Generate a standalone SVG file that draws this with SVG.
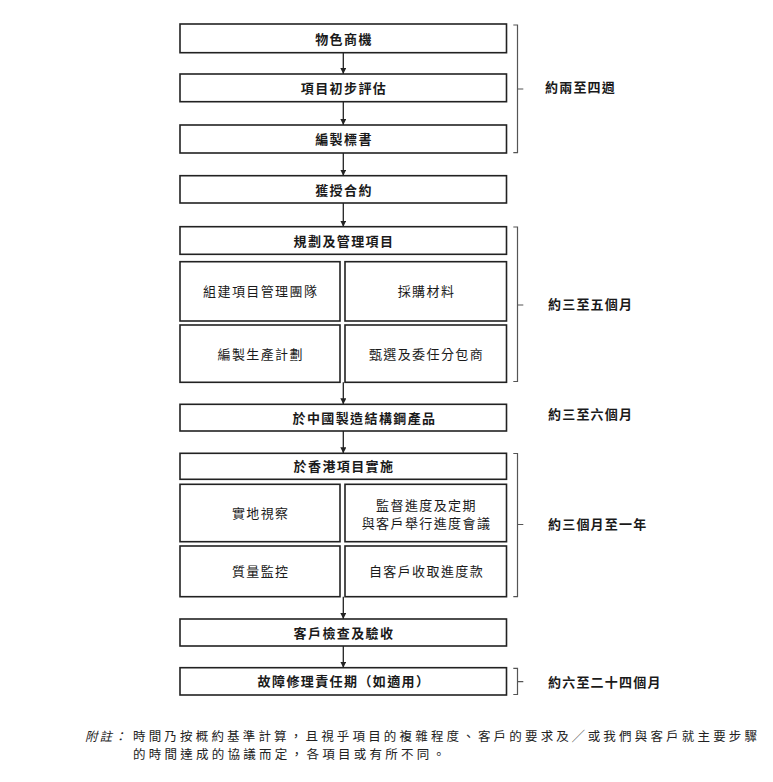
<svg xmlns="http://www.w3.org/2000/svg" width="773" height="782" viewBox="0 0 773 782">
<defs>
<style>
.box{fill:#fff;stroke:#222;stroke-width:1.6}
.t{font-family:"Noto Sans CJK TC","Noto Sans CJK SC",sans-serif;font-size:13px;fill:#1a1a1a;text-anchor:middle;letter-spacing:1.4px}
.b{font-weight:bold}
.lab{font-family:"Noto Sans CJK TC","Noto Sans CJK SC",sans-serif;font-size:13px;font-weight:bold;fill:#1a1a1a;letter-spacing:1.2px}
.br{fill:none;stroke:#555;stroke-width:1.2}
.con{stroke:#222;stroke-width:1.3;fill:none;marker-end:url(#ah)}
.note{font-family:"Noto Sans CJK TC","Noto Sans CJK SC",sans-serif;font-size:12.5px;fill:#222}
</style>
<marker id="ah" viewBox="0 0 8 8" refX="8" refY="4" markerWidth="6" markerHeight="6" orient="auto" markerUnits="userSpaceOnUse">
<path d="M0,0 L8,4 L0,8 Z" fill="#222"/>
</marker>
</defs>
<rect width="773" height="782" fill="#fff"/>

<g id="connectors">
<line class="con" x1="343.3" y1="52.7" x2="343.3" y2="74"/>
<line class="con" x1="343.3" y1="101.7" x2="343.3" y2="125"/>
<line class="con" x1="343.3" y1="153" x2="343.3" y2="175.7"/>
<line class="con" x1="343.3" y1="203" x2="343.3" y2="226.7"/>
<line class="con" x1="343.3" y1="382.3" x2="343.3" y2="404.3"/>
<line class="con" x1="343.3" y1="431" x2="343.3" y2="453.3"/>
<line class="con" x1="343.3" y1="596.7" x2="343.3" y2="619"/>
<line class="con" x1="343.3" y1="646" x2="343.3" y2="667.7"/>
</g>

<g id="n1"><rect class="box" x="180" y="24" width="326.5" height="28.7"/><text class="t b" x="344" y="43.5">物色商機</text></g>
<g id="n2"><rect class="box" x="180" y="74" width="326.5" height="27.7"/><text class="t b" x="344" y="93">項目初步評估</text></g>
<g id="n3"><rect class="box" x="180" y="125" width="326.5" height="28"/><text class="t b" x="344" y="144">編製標書</text></g>
<g id="n4"><rect class="box" x="180" y="175.7" width="326.5" height="27.3"/><text class="t b" x="344" y="194.5">獲授合約</text></g>

<g id="n5"><rect class="box" x="180" y="226.7" width="326.5" height="27.6"/><text class="t b" x="344" y="245.5">規劃及管理項目</text></g>
<g id="n5a"><rect class="box" x="180" y="261.7" width="160" height="59.3"/><text class="t" x="260.7" y="296.3">組建項目管理團隊</text></g>
<g id="n5b"><rect class="box" x="345" y="261.7" width="161.5" height="59.3"/><text class="t" x="426.5" y="296.3">採購材料</text></g>
<g id="n5c"><rect class="box" x="180" y="325" width="160" height="57.3"/><text class="t" x="260.7" y="359">編製生產計劃</text></g>
<g id="n5d"><rect class="box" x="345" y="325" width="161.5" height="57.3"/><text class="t" x="426.5" y="359">甄選及委任分包商</text></g>

<g id="n6"><rect class="box" x="180" y="404.3" width="326.5" height="26.7"/><text class="t b" x="364.5" y="422.7">於中國製造結構鋼產品</text></g>

<g id="n7"><rect class="box" x="180" y="453.3" width="326.5" height="26"/><text class="t b" x="344" y="471.3">於香港項目實施</text></g>
<g id="n7a"><rect class="box" x="180" y="484.3" width="160" height="57.4"/><text class="t" x="260.7" y="518">實地視察</text></g>
<g id="n7b"><rect class="box" x="345" y="484.3" width="161.5" height="57.4"/><text class="t" x="426.5" y="510">監督進度及定期</text><text class="t" x="426.5" y="528.3">與客戶舉行進度會議</text></g>
<g id="n7c"><rect class="box" x="180" y="546" width="160" height="50.7"/><text class="t" x="260.7" y="576.3">質量監控</text></g>
<g id="n7d"><rect class="box" x="345" y="546" width="161.5" height="50.7"/><text class="t" x="426.5" y="576.3">自客戶收取進度款</text></g>

<g id="n8"><rect class="box" x="180" y="619" width="326.5" height="27"/><text class="t b" x="344" y="637.5">客戶檢查及驗收</text></g>
<g id="n9"><rect class="box" x="180" y="667.7" width="326.5" height="27.3"/><text class="t b" x="344" y="686.3">故障修理責任期（如適用）</text></g>

<g id="brackets">
<path class="br" d="M513.3,25 H517.5 V152.7 H513.3 M517.5,89 H523.3"/>
<path class="br" d="M513.3,227 H517.5 V381.5 H513.3 M517.5,305 H523.3"/>
<path class="br" d="M513.3,453.5 H517.5 V596.7 H513.3 M517.5,524.5 H523.3"/>
<path class="br" d="M513.3,668.3 H517.5 V694.5 H513.3 M517.5,681.7 H523.3"/>
</g>

<g id="labels">
<text class="lab" x="545" y="91.7">約兩至四週</text>
<text class="lab" x="548" y="309">約三至五個月</text>
<text class="lab" x="548" y="419">約三至六個月</text>
<text class="lab" x="548" y="529">約三個月至一年</text>
<text class="lab" x="548" y="686.5">約六至二十四個月</text>
</g>

<g id="footnote">
<text class="note" x="85" y="740.5" font-style="italic" letter-spacing="2">附註：</text>
<text class="note" x="133" y="740.5" textLength="624" lengthAdjust="spacing">時間乃按概約基準計算，且視乎項目的複雜程度、客戶的要求及╱或我們與客戶就主要步驟</text>
<text class="note" x="133" y="758.8" textLength="312" lengthAdjust="spacing">的時間達成的協議而定，各項目或有所不同。</text>
</g>
</svg>
